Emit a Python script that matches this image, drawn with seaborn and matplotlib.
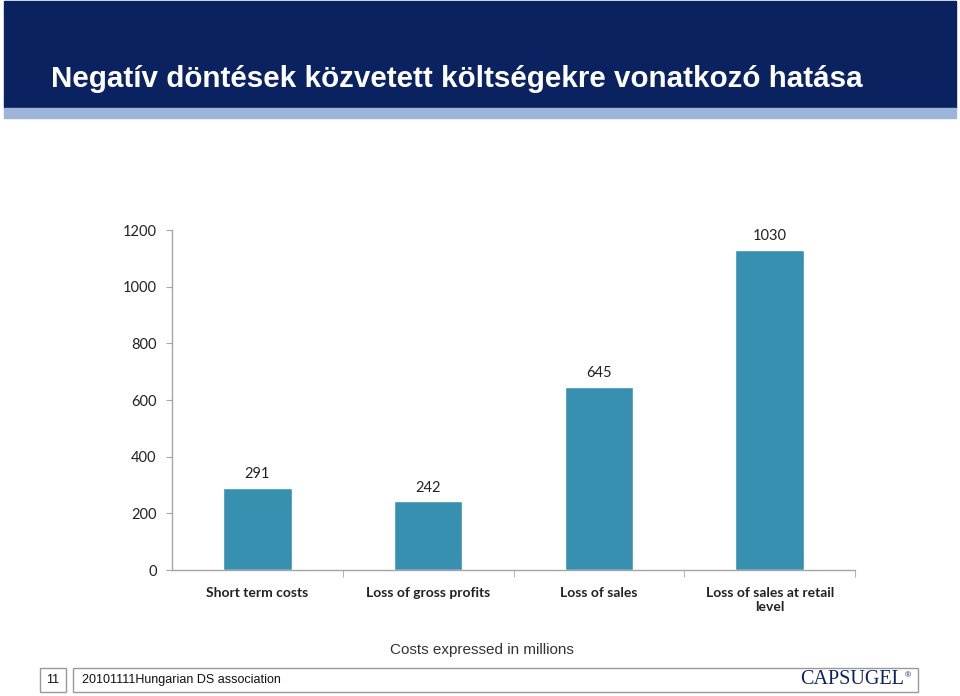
import matplotlib
matplotlib.use('Agg')
import matplotlib.pyplot as plt
import seaborn as sns
import pandas as pd
from matplotlib.patches import Rectangle

categories = ['Short term costs', 'Loss of gross profits', 'Loss of sales',
              'Loss of sales at retail\nlevel']
# bar heights as drawn in the picture (the last bar is drawn taller than its label)
values = [291, 242, 645, 1130]
value_labels = ['291', '242', '645', '1030']
yticks = [0, 200, 400, 600, 800, 1000, 1200]

df = pd.DataFrame({'cat': categories, 'val': values})

sns.set_style('white')
plt.rcParams['font.family'] = ['Liberation Sans', 'DejaVu Sans']

fig = plt.figure(figsize=(9.6, 6.96), dpi=100)
W, H = 960, 696

# header banner
fig.patches.append(Rectangle((4 / W, 1 - 108 / H), 952 / W, 107 / H,
                             transform=fig.transFigure, color='#0b2260', zorder=0))
fig.patches.append(Rectangle((4 / W, 1 - 118 / H), 952 / W, 10 / H,
                             transform=fig.transFigure, color='#9db5d8', zorder=0))
fig.text(51 / W, 1 - 79 / H, 'Negatív döntések közvetett költségekre vonatkozó hatása',
         color='white', fontsize=21.3, fontweight='bold', va='center', ha='left')

ax = fig.add_axes([172 / W, 1 - 570 / H, 683 / W, 340 / H])
sns.barplot(data=df, x='cat', y='val', color='#3790b0', saturation=1, width=0.4, ax=ax)
ax.set_ylim(0, 1200)
ax.set_xlim(-0.5, 3.5)
ax.set_yticks(yticks)
ax.set_yticklabels([str(t) for t in yticks], family=['Lato', 'DejaVu Sans'])
ax.set_xlabel('')
ax.set_ylabel('')
for s in ['top', 'right']:
    ax.spines[s].set_visible(False)
for s in ['left', 'bottom']:
    ax.spines[s].set_color('#a6a6a6')
    ax.spines[s].set_linewidth(1)
ax.tick_params(axis='y', left=True, length=4, color='#a6a6a6', labelsize=10.5,
               labelcolor='#222222', pad=7)
ax.set_xticks(range(len(categories)))
ax.set_xticklabels(categories, fontsize=10, fontweight='bold', color='#222222',
                   family=['Lato', 'DejaVu Sans'], linespacing=1.15)
ax.tick_params(axis='x', bottom=False, pad=9)
ax.set_xticks([0.5, 1.5, 2.5, 3.5], minor=True)
ax.tick_params(axis='x', which='minor', bottom=True, length=5, color='#a6a6a6')

for i, (v, lab) in enumerate(zip(values, value_labels)):
    ax.annotate(lab, (i, v), xytext=(0, 10), textcoords='offset points', ha='center',
                va='center', fontsize=10.5, color='#222222', family=['Lato', 'DejaVu Sans'])

fig.text(482 / W, 1 - 650 / H, 'Costs expressed in millions', ha='center', va='center',
         fontsize=11, color='#333333')

# footer
fig.patches.append(Rectangle((40 / W, 1 - 692 / H), 26 / W, 24 / H, transform=fig.transFigure,
                             fill=False, edgecolor='#999999', linewidth=1))
fig.patches.append(Rectangle((73 / W, 1 - 692 / H), 845 / W, 24 / H, transform=fig.transFigure,
                             fill=False, edgecolor='#999999', linewidth=1))
fig.text(53 / W, 1 - 680 / H, '11', ha='center', va='center', fontsize=9, color='#111111')
fig.text(82 / W, 1 - 680 / H, '20101111Hungarian DS association', ha='left', va='center',
         fontsize=9, color='#111111')
fig.text(904 / W, 1 - 680 / H, 'CAPSUGEL', ha='right', va='center', fontsize=14.5,
         color='#0b2260', family=['Liberation Serif', 'DejaVu Serif'])
fig.text(905 / W, 1 - 676 / H, '®', ha='left', va='center', fontsize=6, color='#0b2260')

fig.savefig('out.png', dpi=100)
